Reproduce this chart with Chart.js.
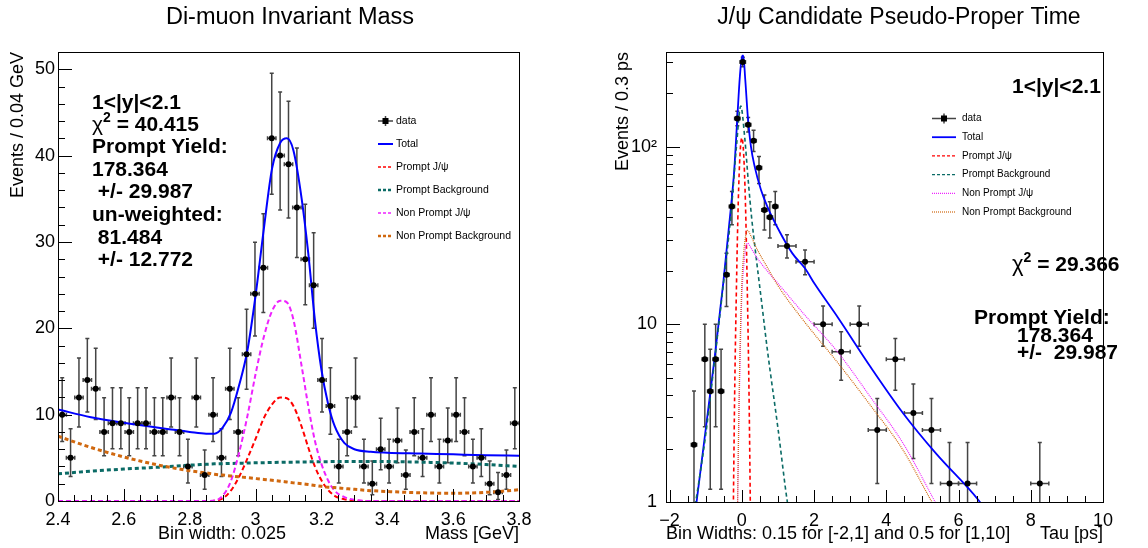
<!DOCTYPE html>
<html>
<head>
<meta charset="utf-8">
<script src="https://cdn.jsdelivr.net/npm/chart.js@4.4.1/dist/chart.umd.min.js"></script>
<style>
  html, body { margin: 0; padding: 0; background: #fff; }
  body { width: 1148px; height: 548px; position: relative; overflow: hidden; }
  canvas { position: absolute; top: 0; }
  #massChart { left: 0; }
  #tauChart { left: 592px; }
</style>
</head>
<body>
<canvas id="massChart" width="580" height="548"></canvas>
<canvas id="tauChart" width="556" height="548"></canvas>
<script>
// ============================================================
//  Di-muon mass + pseudo-proper time fit (ROOT look-alike)
// ============================================================
const FONT = '"Liberation Sans", Arial, Helvetica, sans-serif';

// ── MASS PANEL: 55 bins over [2.4, 3.8] ─────────────────────
const massRange = [2.4, 3.8];
const massCounts = [10, 5, 12, 14, 13, 8, 9, 9, 8, 9, 9, 8, 8, 12, 8, 4, 12, 3, 10, 5,
                    13, 8, 17, 24, 27, 42, 40, 39, 34, 28, 25, 14, 11, 4, 8, 12, 4, 2, 6, 4,
                    7, 3, 8, 5, 10, 4, 7, 10, 8, 4, 5, 2, 1, 3, 9];
// asymmetric poisson bars, keyed by count
const poissonLow  = { 1: 0.83, 2: 1.29, 3: 1.63, 4: 1.91, 5: 2.16, 6: 2.38, 7: 2.58, 8: 2.77, 9: 2.94,
                      10: 3.11, 11: 3.27, 12: 3.42, 13: 3.56, 14: 3.70, 17: 4.07, 24: 4.88, 25: 4.98,
                      27: 5.18, 28: 5.27, 34: 5.81, 39: 6.22, 40: 6.30, 42: 6.46 };
const poissonHigh = { 1: 2.30, 2: 2.64, 3: 2.92, 4: 3.16, 5: 3.38, 6: 3.58, 7: 3.77, 8: 3.95, 9: 4.11,
                      10: 4.27, 11: 4.42, 12: 4.56, 13: 4.70, 14: 4.83, 17: 5.21, 24: 5.97, 25: 6.07,
                      27: 6.27, 28: 6.36, 34: 6.89, 39: 7.31, 40: 7.38, 42: 7.54 };

const massCurveX        = [2.40, 2.50, 2.60, 2.70, 2.80, 2.85, 2.875, 2.90, 2.925, 2.95, 2.975, 3.00, 3.025, 3.05, 3.075, 3.095,
                           3.115, 3.14, 3.16, 3.18, 3.20, 3.22, 3.24, 3.27, 3.30, 3.35, 3.40, 3.50, 3.60, 3.70, 3.80];
const massTotal         = [10.6, 9.7, 9.05, 8.5, 8.0, 7.8, 7.8, 8.5, 10.2, 13.4, 17.4, 23.8, 31.5, 38.5, 41.5, 42.0,
                           40.6, 35.0, 28.7, 21.0, 15.2, 11.3, 8.7, 6.7, 6.0, 5.7, 5.6, 5.5, 5.4, 5.3, 5.25];
const massPromptJpsi    = [0, 0, 0, 0, 0, 0, 0.03, 0.3, 1.2, 2.8, 4.9, 7.2, 9.6, 11.2, 12.0, 11.9,
                           11.0, 8.6, 6.2, 4.0, 2.4, 1.3, 0.6, 0.2, 0.05, 0, 0, 0, 0, 0, 0];
const massPromptBkg     = [3.15, 3.45, 3.7, 3.9, 4.15, 4.25, 4.3, 4.32, 4.35, 4.37, 4.4, 4.42, 4.44, 4.46, 4.48, 4.5,
                           4.5, 4.52, 4.53, 4.54, 4.55, 4.56, 4.57, 4.58, 4.58, 4.58, 4.57, 4.5, 4.4, 4.22, 4.0];
const massNonPromptJpsi = [0, 0, 0, 0, 0, 0, 0.05, 0.6, 2.3, 5.6, 9.8, 14.7, 19.0, 22.0, 23.2, 23.0,
                           21.0, 15.6, 11.0, 7.0, 4.3, 2.4, 1.2, 0.45, 0.15, 0, 0, 0, 0, 0, 0];
const massNonPromptBkg  = [7.5, 6.2, 5.1, 4.2, 3.5, 3.25, 3.1, 3.0, 2.9, 2.8, 2.7, 2.6, 2.5, 2.4, 2.3, 2.2,
                           2.1, 2.0, 1.9, 1.8, 1.7, 1.6, 1.55, 1.45, 1.35, 1.2, 1.1, 0.95, 0.9, 1.0, 1.3];

const massXTicks = [2.4, 2.6, 2.8, 3.0, 3.2, 3.4, 3.6, 3.8];
const massYTicks = [0, 10, 20, 30, 40, 50];

// ── TAU PANEL: 0.15 ps bins in [-2,1], 0.5 ps bins in [1,10] ─
const tauRange = [-2.1, 10];
const tauCenters = [-1.325, -1.025, -0.875, -0.725, -0.575, -0.425, -0.275, -0.125, 0.025, 0.175,
                    0.325, 0.475, 0.625, 0.775, 0.925, 1.25, 1.75, 2.25, 2.75, 3.25,
                    3.75, 4.25, 4.75, 5.25, 5.75, 6.25, 8.25];
const tauCounts  = [2.1, 6.35, 4.2, 6.35, 4.2, 19.0, 46.0, 144, 300, 133,
                    108, 76, 44, 40, 46, 27.6, 22.5, 10.0, 7.0, 10.0,
                    2.54, 6.35, 3.17, 2.54, 1.27, 1.27, 1.27];
const tauBarHigh = [4.21, 10.0, 7.24, 10.0, 7.24, 25.1, 55.9, 158, 319, 146,
                    123.6, 88, 53.5, 49, 55.9, 31.9, 26.2, 12.67, 9.07, 12.67,
                    3.82, 8.32, 4.61, 3.82, 2.16, 2.16, 2.16];
const tauBarLow  = [0.01, 2.65, 1.18, 2.65, 1.18, 12.6, 36.3, 131, 282, 121,
                    94, 62, 34, 30.6, 36.3, 23.6, 19.0, 7.53, 4.85, 7.53,
                    1.27, 4.26, 1.76, 1.27, 0.38, 0.38, 0.38];

const tauTotalX = [-1.30, -1.254, -1.0, -0.734, -0.516, -0.30, -0.21, -0.123, -0.054, 0.01, 0.04, 0.095, 0.165,
                   0.252, 0.357, 0.531, 0.706, 1.055, 1.404, 1.753, 2.015, 2.65, 3.56, 4.47, 5.38, 6.56, 6.70];
const tauTotalY = [0.85, 1.0, 2.57, 7.0, 17.0, 46, 74, 148, 249, 325, 325, 238, 148,
                   100, 77, 57, 46, 33, 25, 20.6, 16.9, 11.0, 5.77, 3.15, 1.87, 1.02, 0.93];
const tauPromptJpsiX = [-0.25, -0.2, -0.15, -0.1, -0.05, 0, 0.05, 0.1, 0.15, 0.2, 0.25];
const tauPromptJpsiY = [0.5, 3.9, 16, 48, 91, 112, 91, 48, 16, 3.9, 0.5];
const tauPromptBkgX = [-1.35, -1.0, -0.734, -0.516, -0.3, -0.15, -0.03, 0.077, 0.182, 0.27, 0.374, 0.55, 0.706, 1.0, 1.26, 1.32];
const tauPromptBkgY = [0.8, 2.4, 6.8, 16.5, 42, 100, 169, 114, 62.6, 40, 26, 13.2, 7.2, 2.6, 1.0, 0.85];
const tauNonPromptJpsiX = [-0.12, -0.08, -0.04, 0, 0.05, 0.1, 0.16, 0.25, 0.4, 0.7, 1.0, 1.74, 2.65, 3.56, 4.47, 5.33, 5.45];
const tauNonPromptJpsiY = [0.9, 3, 7.5, 14.5, 21, 26.5, 28.6, 27, 24, 20, 17, 11.3, 7.0, 3.9, 2.13, 1.02, 0.92];
const tauNonPromptBkgX = [-0.12, -0.08, -0.04, 0, 0.05, 0.1, 0.16, 0.25, 0.4, 0.7, 1.0, 1.74, 2.65, 3.56, 4.47, 5.24, 5.4];
const tauNonPromptBkgY = [0.9, 3.5, 9, 17, 25, 31, 33.8, 31.5, 27, 21, 16.5, 10.3, 6.1, 3.5, 1.95, 1.02, 0.9];

const tauXTicks = [-2, 0, 2, 4, 6, 8, 10];
const tauYTicks = [1, 10, 100];

// ── COLOURS ─────────────────────────────────────────────────
const C = { total: "#0000ff", pJpsi: "#ff0000", pBkg: "#0b6b66", npJpsi: "#ee22ff", npBkg: "#d0680f" };

// ── HELPERS ─────────────────────────────────────────────────
const xy = (xs, ys) => xs.map((x, i) => ({ x, y: ys[i] }));

function curve(xs, ys, color, dash, width) {
  return {
    data: xy(xs, ys), showLine: true, pointRadius: 0, borderColor: color,
    borderWidth: width, borderDash: dash, cubicInterpolationMode: "monotone", fill: false,
  };
}

function markers(xs, ys) {
  return { data: xy(xs, ys), showLine: false, pointRadius: 3, pointBackgroundColor: "#000",
           pointBorderWidth: 0, pointHoverRadius: 3 };
}

function range(a, b, step) {
  const out = [];
  for (let v = a; v <= b + 1e-9; v += step) out.push(+v.toFixed(4));
  return out;
}

// per-canvas decorations: title, error bars, frame ticks, text, legend
const decor = {};

const massStep = (massRange[1] - massRange[0]) / massCounts.length;
const massCenters = massCounts.map((_, i) => massRange[0] + (i + 0.5) * massStep);

decor.massChart = {
  bars: massCounts.map((n, i) => ({ x: massCenters[i], dx: massStep / 2, y: n,
                                     lo: n - poissonLow[n], hi: n + poissonHigh[n] })),
  xMajor: massXTicks, xMinor: range(2.4, 3.8, 0.05),
  yMajor: massYTicks, yMinor: range(0, 52, 2),
  texts: [
    { x: 290, y: 17.5, align: "center", parts: [{ t: "Di-muon Invariant Mass", f: "23.5px" }] },
    { x: 92, y: 103, parts: [{ t: "1<|y|<2.1", f: "bold 21px" }] },
    { x: 92, y: 125, parts: [{ t: "χ", f: "21px" }, { t: "2", f: "bold 14px", dy: -7 }, { t: " = 40.415", f: "bold 21px" }] },
    { x: 92, y: 147, parts: [{ t: "Prompt Yield:", f: "bold 21px" }] },
    { x: 92, y: 170, parts: [{ t: "178.364", f: "bold 21px" }] },
    { x: 92, y: 192, parts: [{ t: " +/- 29.987", f: "bold 21px" }] },
    { x: 92, y: 215, parts: [{ t: "un-weighted:", f: "bold 21px" }] },
    { x: 92, y: 238, parts: [{ t: " 81.484", f: "bold 21px" }] },
    { x: 92, y: 260, parts: [{ t: " +/- 12.772", f: "bold 21px" }] },
    { x: 222, y: 534, align: "center", parts: [{ t: "Bin width: 0.025", f: "18px" }] },
  ],
  legend: { x0: 378, x1: 393, tx: 396, y0: 121, dy: 23, font: "10.5px", rows: [
    { label: "data", data: true },
    { label: "Total", color: C.total, dash: [], w: 2 },
    { label: "Prompt J/ψ", color: C.pJpsi, dash: [3, 2], w: 1.5 },
    { label: "Prompt Background", color: C.pBkg, dash: [3, 2], w: 2.5 },
    { label: "Non Prompt J/ψ", color: C.npJpsi, dash: [3, 2], w: 1.5 },
    { label: "Non Prompt Background", color: C.npBkg, dash: [3, 2], w: 2.5 },
  ]},
};

decor.tauChart = {
  bars: tauCounts.map((n, i) => ({ x: tauCenters[i], dx: tauCenters[i] < 1 ? 0.075 : 0.25, y: n,
                                    lo: tauBarLow[i], hi: tauBarHigh[i] })),
  xMajor: tauXTicks, xMinor: range(-2, 10, 0.5),
  yMajor: tauYTicks, yMinor: [2, 3, 4, 5, 6, 7, 8, 9, 20, 30, 40, 50, 60, 70, 80, 90, 200, 300],
  texts: [
    { x: 307, y: 17.5, align: "center", parts: [{ t: "J/ψ Candidate Pseudo-Proper Time", f: "23px" }] },
    { x: 420, y: 87, parts: [{ t: "1<|y|<2.1", f: "bold 21px" }] },
    { x: 420, y: 265, parts: [{ t: "χ", f: "22px" }, { t: "2", f: "bold 14px", dy: -7 }, { t: " = 29.366", f: "bold 21px" }] },
    { x: 382, y: 318, parts: [{ t: "Prompt Yield:", f: "bold 21px" }] },
    { x: 425, y: 336, parts: [{ t: "178.364", f: "bold 21px" }] },
    { x: 425, y: 353, parts: [{ t: "+/-  29.987", f: "bold 21px" }] },
    { x: 74, y: 534, parts: [{ t: "Bin Widths: 0.15 for [-2,1] and 0.5 for [1,10]", f: "18px" }] },
  ],
  legend: { x0: 340, x1: 364, tx: 370, y0: 118.5, dy: 18.7, font: "10px", rows: [
    { label: "data", data: true },
    { label: "Total", color: C.total, dash: [], w: 1.8 },
    { label: "Prompt J/ψ", color: C.pJpsi, dash: [3, 2], w: 1.3 },
    { label: "Prompt Background", color: C.pBkg, dash: [3, 2], w: 1.3 },
    { label: "Non Prompt J/ψ", color: C.npJpsi, dash: [1, 1], w: 1.2 },
    { label: "Non Prompt Background", color: C.npBkg, dash: [1, 1], w: 1.2 },
  ]},
};

// ── DRAWING ─────────────────────────────────────────────────
function drawBars(chart, bars) {
  const { ctx, chartArea: a, scales: { x, y } } = chart;
  ctx.save();
  ctx.beginPath();
  ctx.rect(a.left, a.top, a.right - a.left, a.bottom - a.top);
  ctx.clip();
  ctx.strokeStyle = "#444";
  ctx.lineWidth = 1.5;
  bars.forEach(b => {
    const px = x.getPixelForValue(b.x), py = y.getPixelForValue(b.y);
    const xl = x.getPixelForValue(b.x - b.dx), xr = x.getPixelForValue(b.x + b.dx);
    const yt = y.getPixelForValue(b.hi), yb = y.getPixelForValue(Math.max(b.lo, 1e-3));
    ctx.beginPath();
    ctx.moveTo(px, yt); ctx.lineTo(px, yb);
    ctx.moveTo(xl, py); ctx.lineTo(xr, py);
    ctx.moveTo(px - 2, yt); ctx.lineTo(px + 2, yt);
    ctx.moveTo(px - 2, yb); ctx.lineTo(px + 2, yb);
    ctx.moveTo(xl, py - 2); ctx.lineTo(xl, py + 2);
    ctx.moveTo(xr, py - 2); ctx.lineTo(xr, py + 2);
    ctx.stroke();
  });
  ctx.restore();
}

function drawFrame(chart, d) {
  const { ctx, chartArea: a, scales: { x, y } } = chart;
  ctx.save();
  ctx.strokeStyle = "#000";
  ctx.lineWidth = 1;
  ctx.strokeRect(Math.round(a.left) + 0.5, Math.round(a.top) + 0.5,
                 Math.round(a.right - a.left), Math.round(a.bottom - a.top));
  ctx.beginPath();
  const tickY = (vals, len) => vals.forEach(v => {
    const p = Math.round(y.getPixelForValue(v)) + 0.5;
    if (p < a.top || p > a.bottom + 1) return;
    ctx.moveTo(a.left, p); ctx.lineTo(a.left + len, p);
  });
  const tickX = (vals, len) => vals.forEach(v => {
    const p = Math.round(x.getPixelForValue(v)) + 0.5;
    ctx.moveTo(p, a.bottom); ctx.lineTo(p, a.bottom - len);
  });
  tickY(d.yMajor, 14); tickY(d.yMinor, 7);
  tickX(d.xMajor, 12); tickX(d.xMinor, 6);
  ctx.stroke();
  ctx.restore();
}

function drawRich(ctx, t) {
  ctx.save();
  ctx.fillStyle = "#000";
  ctx.textBaseline = "middle";
  let total = 0;
  t.parts.forEach(p => { ctx.font = `${p.f} ${FONT}`; total += ctx.measureText(p.t).width; });
  let cx = t.align === "center" ? t.x - total / 2 : t.x;
  t.parts.forEach(p => {
    ctx.font = `${p.f} ${FONT}`;
    ctx.fillText(p.t, cx, t.y + (p.dy || 0));
    cx += ctx.measureText(p.t).width;
  });
  ctx.restore();
}

function drawLegend(ctx, lg) {
  ctx.save();
  lg.rows.forEach((r, i) => {
    const y = lg.y0 + i * lg.dy;
    const xm = (lg.x0 + lg.x1) / 2;
    ctx.beginPath();
    if (r.data) {
      ctx.strokeStyle = "#444"; ctx.lineWidth = 1.5; ctx.setLineDash([]);
      ctx.moveTo(lg.x0, y); ctx.lineTo(lg.x1, y);
      ctx.moveTo(xm, y - 5); ctx.lineTo(xm, y + 5);
      ctx.stroke();
      ctx.fillStyle = "#000";
      ctx.fillRect(xm - 3, y - 3, 6, 6);
    } else {
      ctx.strokeStyle = r.color; ctx.lineWidth = r.w; ctx.setLineDash(r.dash);
      ctx.moveTo(lg.x0, y); ctx.lineTo(lg.x1, y);
      ctx.stroke();
    }
    ctx.setLineDash([]);
    ctx.fillStyle = "#000";
    ctx.font = `${lg.font} ${FONT}`;
    ctx.textBaseline = "middle";
    ctx.fillText(r.label, lg.tx, y);
  });
  ctx.restore();
}

const rootStyle = {
  id: "rootStyle",
  beforeDatasetsDraw(chart) { drawBars(chart, decor[chart.canvas.id].bars); },
  afterDraw(chart) {
    const d = decor[chart.canvas.id];
    drawFrame(chart, d);
    d.texts.forEach(t => drawRich(chart.ctx, t));
    drawLegend(chart.ctx, d.legend);
  },
};

// ── CHART OPTIONS ───────────────────────────────────────────
function axisFont(size) { return { family: FONT, size, weight: "normal" }; }

function baseOptions(cfg) {
  return {
    responsive: false, animation: false, events: [],
    layout: { padding: { left: 0, right: cfg.padRight, top: 52, bottom: 0 } },
    plugins: { legend: { display: false }, tooltip: { enabled: false }, title: { display: false } },
    scales: {
      x: {
        type: "linear", min: cfg.xMin, max: cfg.xMax,
        afterBuildTicks: s => { s.ticks = cfg.xTicks.map(v => ({ value: v })); },
        afterFit: s => { s.height = cfg.xHeight; },
        grid: { display: false, drawTicks: false }, border: { display: false },
        ticks: { color: "#000", font: axisFont(18), padding: 8, maxRotation: 0, autoSkip: false,
                 callback: cfg.xLabel },
        title: { display: true, text: cfg.xTitle, align: "end", color: "#000", font: axisFont(18),
                 padding: { top: 0, bottom: 3 } },
      },
      y: {
        type: cfg.yType, min: cfg.yMin, max: cfg.yMax,
        afterBuildTicks: s => { s.ticks = cfg.yTicks.map(v => ({ value: v })); },
        afterFit: s => { s.width = cfg.yWidth; },
        grid: { display: false, drawTicks: false }, border: { display: false },
        ticks: { color: "#000", font: axisFont(18), padding: cfg.yPad, autoSkip: false,
                 callback: cfg.yLabel },
        title: { display: true, text: cfg.yTitle, align: "end", color: "#000", font: axisFont(18),
                 padding: { top: cfg.yTitlePad, bottom: 0 } },
      },
    },
  };
}

new Chart(document.getElementById("massChart"), {
  type: "scatter",
  data: { datasets: [
    markers(massCenters, massCounts),
    curve(massCurveX, massNonPromptBkg, C.npBkg, [4, 3], 3),
    curve(massCurveX, massNonPromptJpsi, C.npJpsi, [5, 3], 2),
    curve(massCurveX, massPromptBkg, C.pBkg, [4, 3], 3),
    curve(massCurveX, massPromptJpsi, C.pJpsi, [5, 3], 2),
    curve(massCurveX, massTotal, C.total, [], 2),
  ]},
  options: baseOptions({
    padRight: 61,
    xMin: massRange[0], xMax: massRange[1], xTicks: massXTicks, xHeight: 47,
    xLabel: v => String(+(+v).toFixed(1)), xTitle: "Mass [GeV]",
    yType: "linear", yMin: 0, yMax: 52, yTicks: massYTicks, yWidth: 58, yPad: 3,
    yLabel: v => String(v), yTitle: "Events / 0.04 GeV", yTitlePad: 7,
  }),
  plugins: [rootStyle],
});

const tauLabel = { 1: "1", 10: "10", 100: "10²" };

new Chart(document.getElementById("tauChart"), {
  type: "scatter",
  data: { datasets: [
    markers(tauCenters, tauCounts),
    curve(tauNonPromptBkgX, tauNonPromptBkgY, C.npBkg, [1, 1], 1.2),
    curve(tauNonPromptJpsiX, tauNonPromptJpsiY, C.npJpsi, [1, 1], 1.2),
    curve(tauPromptBkgX, tauPromptBkgY, C.pBkg, [4, 3], 1.6),
    curve(tauPromptJpsiX, tauPromptJpsiY, C.pJpsi, [4, 3], 1.6),
    curve(tauTotalX, tauTotalY, C.total, [], 1.8),
  ]},
  options: baseOptions({
    padRight: 45,
    xMin: tauRange[0], xMax: tauRange[1], xTicks: tauXTicks, xHeight: 46,
    xLabel: v => String(v).replace("-", "\u2212"), xTitle: "Tau [ps]",
    yType: "logarithmic", yMin: 1, yMax: 341, yTicks: tauYTicks, yWidth: 74, yPad: 9,
    yLabel: v => tauLabel[v] || "", yTitle: "Events / 0.3 ps", yTitlePad: 20,
  }),
  plugins: [rootStyle],
});
</script>
</body>
</html>
